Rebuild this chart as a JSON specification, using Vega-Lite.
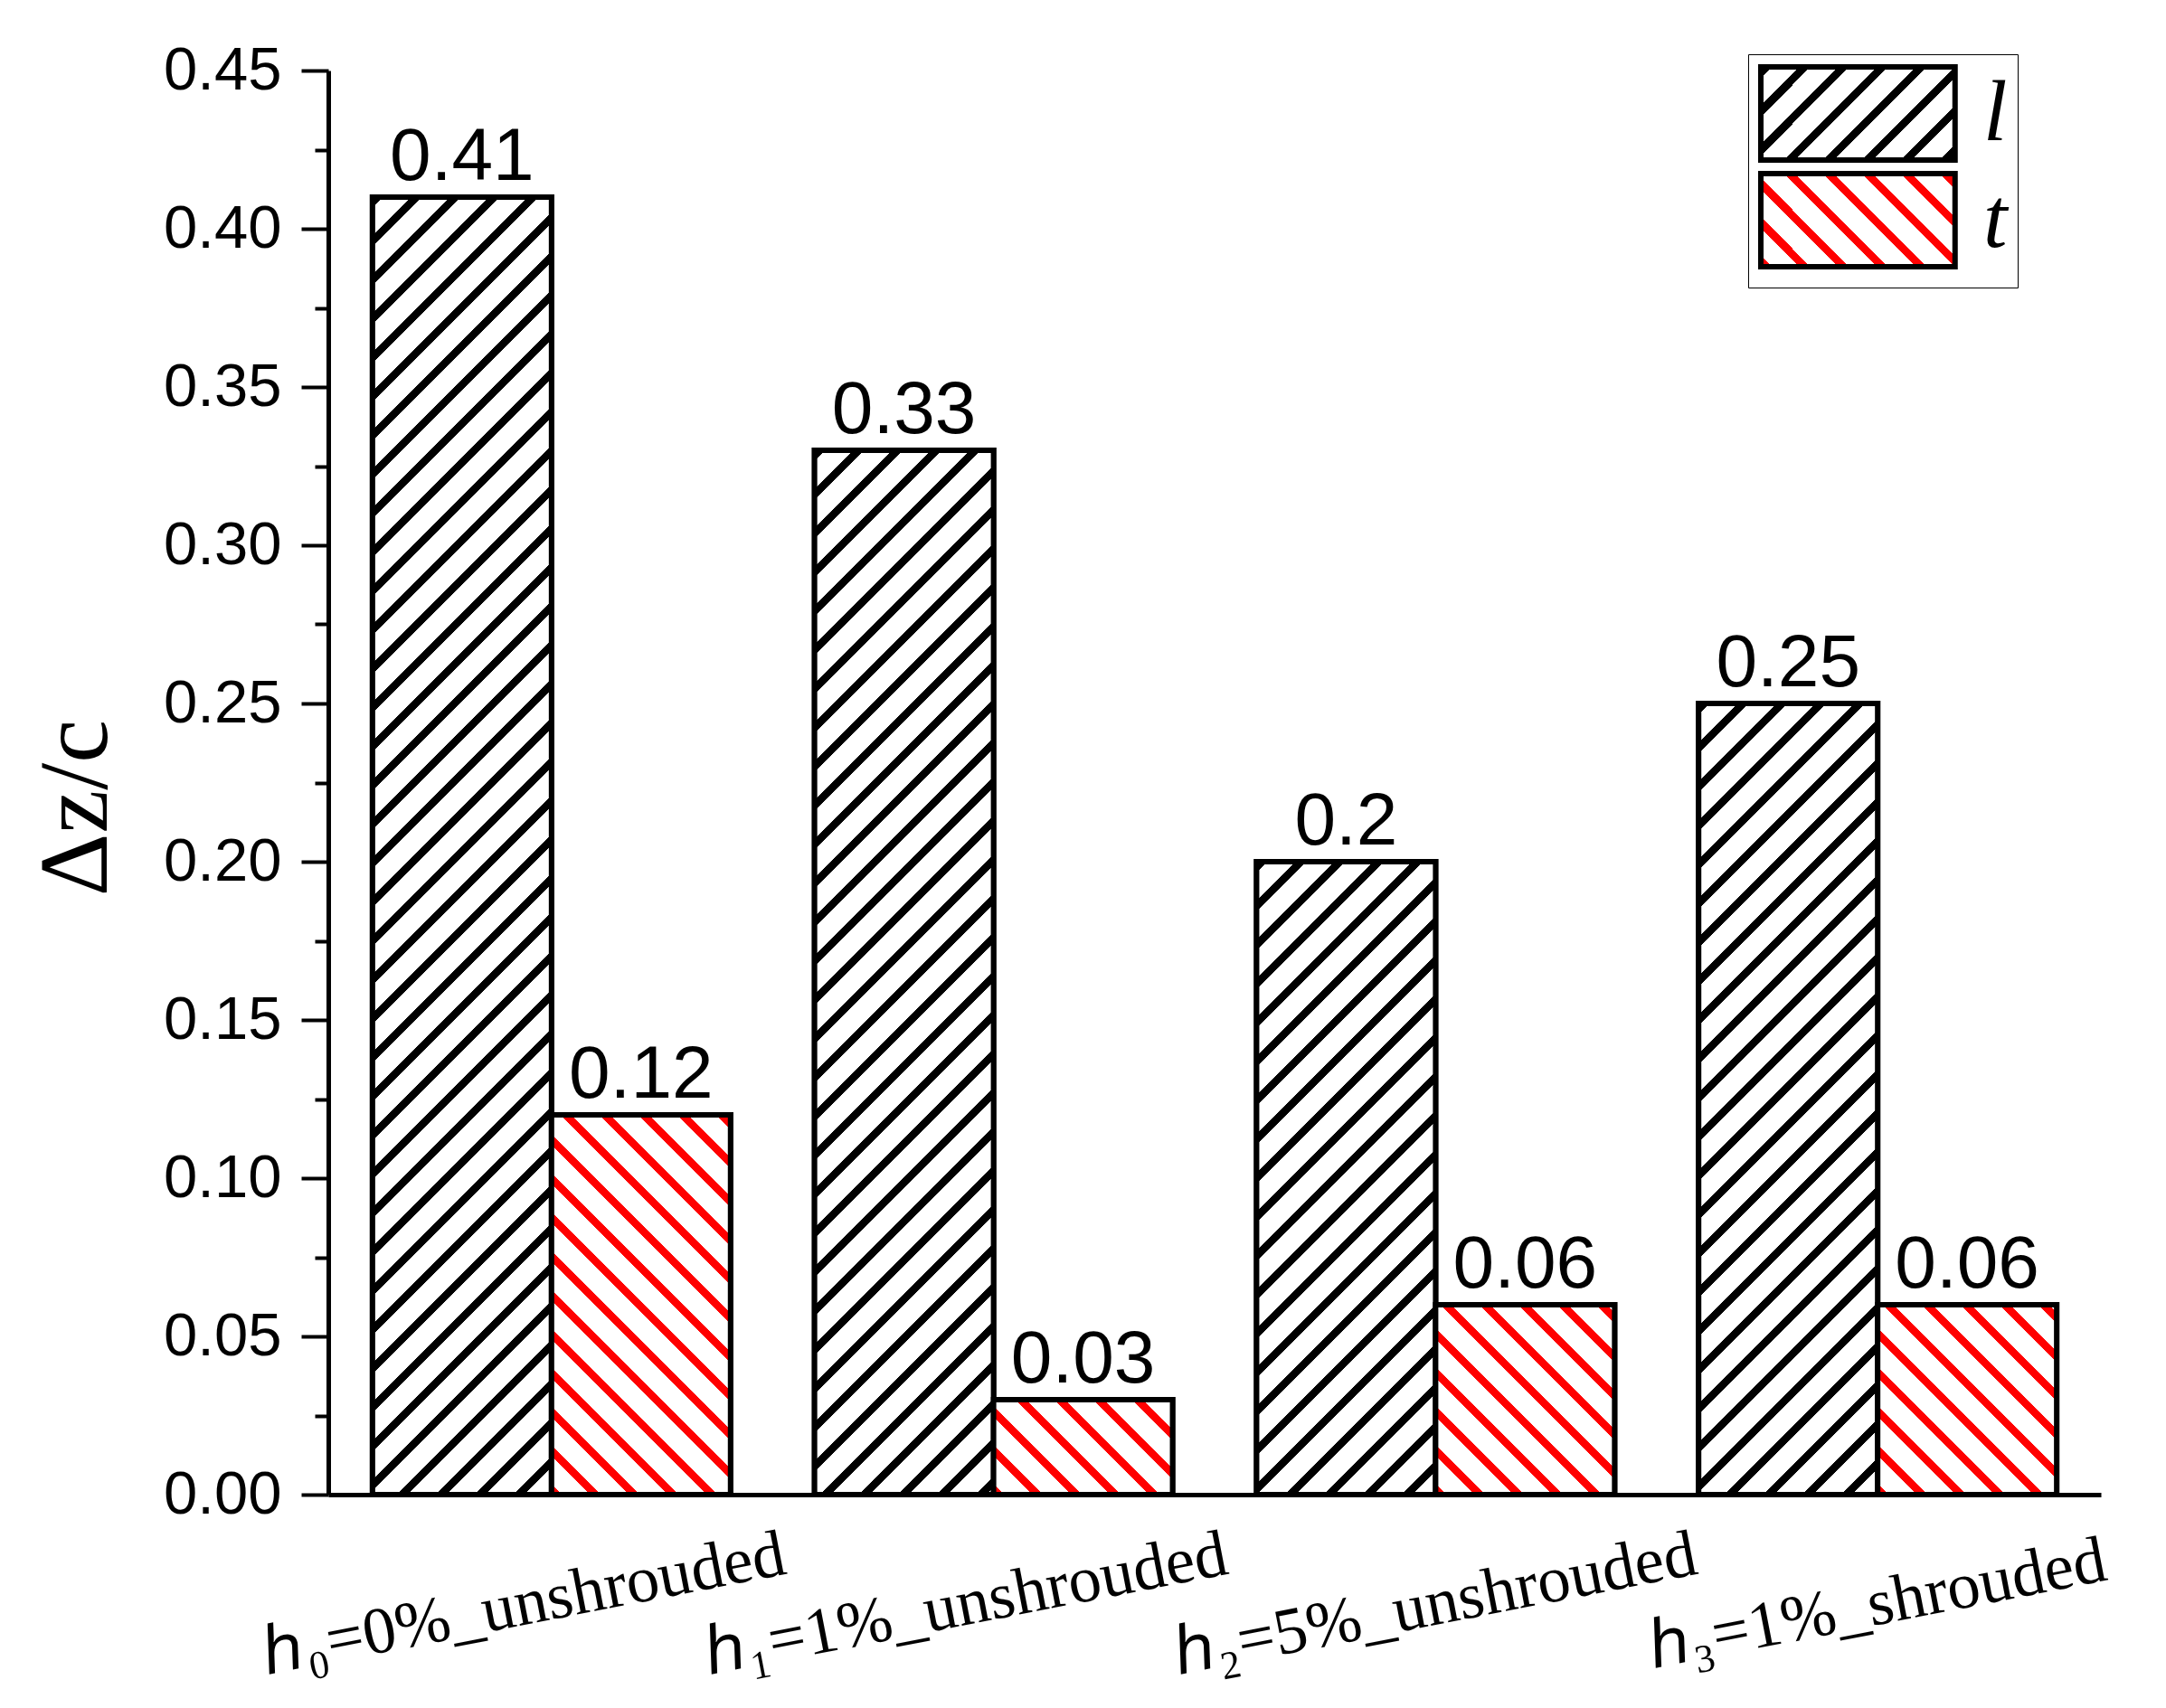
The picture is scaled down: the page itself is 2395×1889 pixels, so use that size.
{
  "$schema": "https://vega.github.io/schema/vega-lite/v6.json",
  "width": 1960,
  "height": 1575,
  "autosize": {"type": "none"},
  "padding": {"left": 363, "top": 78, "right": 72, "bottom": 236},
  "background": "white",
  "params": [
    {"name": "stopsL", "value": [
      {"offset":0,"color":"#000"},{"offset":0.007,"color":"#000"},{"offset":0.007,"color":"#fff"},{"offset":0.025,"color":"#fff"},
      {"offset":0.025,"color":"#000"},{"offset":0.032,"color":"#000"},{"offset":0.032,"color":"#fff"},{"offset":0.05,"color":"#fff"},
      {"offset":0.05,"color":"#000"},{"offset":0.057,"color":"#000"},{"offset":0.057,"color":"#fff"},{"offset":0.075,"color":"#fff"},
      {"offset":0.075,"color":"#000"},{"offset":0.082,"color":"#000"},{"offset":0.082,"color":"#fff"},{"offset":0.1,"color":"#fff"},
      {"offset":0.1,"color":"#000"},{"offset":0.107,"color":"#000"},{"offset":0.107,"color":"#fff"},{"offset":0.125,"color":"#fff"},
      {"offset":0.125,"color":"#000"},{"offset":0.132,"color":"#000"},{"offset":0.132,"color":"#fff"},{"offset":0.15,"color":"#fff"},
      {"offset":0.15,"color":"#000"},{"offset":0.157,"color":"#000"},{"offset":0.157,"color":"#fff"},{"offset":0.175,"color":"#fff"},
      {"offset":0.175,"color":"#000"},{"offset":0.182,"color":"#000"},{"offset":0.182,"color":"#fff"},{"offset":0.2,"color":"#fff"},
      {"offset":0.2,"color":"#000"},{"offset":0.207,"color":"#000"},{"offset":0.207,"color":"#fff"},{"offset":0.225,"color":"#fff"},
      {"offset":0.225,"color":"#000"},{"offset":0.232,"color":"#000"},{"offset":0.232,"color":"#fff"},{"offset":0.25,"color":"#fff"},
      {"offset":0.25,"color":"#000"},{"offset":0.257,"color":"#000"},{"offset":0.257,"color":"#fff"},{"offset":0.275,"color":"#fff"},
      {"offset":0.275,"color":"#000"},{"offset":0.282,"color":"#000"},{"offset":0.282,"color":"#fff"},{"offset":0.3,"color":"#fff"},
      {"offset":0.3,"color":"#000"},{"offset":0.307,"color":"#000"},{"offset":0.307,"color":"#fff"},{"offset":0.325,"color":"#fff"},
      {"offset":0.325,"color":"#000"},{"offset":0.332,"color":"#000"},{"offset":0.332,"color":"#fff"},{"offset":0.35,"color":"#fff"},
      {"offset":0.35,"color":"#000"},{"offset":0.357,"color":"#000"},{"offset":0.357,"color":"#fff"},{"offset":0.375,"color":"#fff"},
      {"offset":0.375,"color":"#000"},{"offset":0.382,"color":"#000"},{"offset":0.382,"color":"#fff"},{"offset":0.4,"color":"#fff"},
      {"offset":0.4,"color":"#000"},{"offset":0.407,"color":"#000"},{"offset":0.407,"color":"#fff"},{"offset":0.425,"color":"#fff"},
      {"offset":0.425,"color":"#000"},{"offset":0.432,"color":"#000"},{"offset":0.432,"color":"#fff"},{"offset":0.45,"color":"#fff"},
      {"offset":0.45,"color":"#000"},{"offset":0.457,"color":"#000"},{"offset":0.457,"color":"#fff"},{"offset":0.475,"color":"#fff"},
      {"offset":0.475,"color":"#000"},{"offset":0.482,"color":"#000"},{"offset":0.482,"color":"#fff"},{"offset":0.5,"color":"#fff"},
      {"offset":0.5,"color":"#000"},{"offset":0.507,"color":"#000"},{"offset":0.507,"color":"#fff"},{"offset":0.525,"color":"#fff"},
      {"offset":0.525,"color":"#000"},{"offset":0.532,"color":"#000"},{"offset":0.532,"color":"#fff"},{"offset":0.55,"color":"#fff"},
      {"offset":0.55,"color":"#000"},{"offset":0.557,"color":"#000"},{"offset":0.557,"color":"#fff"},{"offset":0.575,"color":"#fff"},
      {"offset":0.575,"color":"#000"},{"offset":0.582,"color":"#000"},{"offset":0.582,"color":"#fff"},{"offset":0.6,"color":"#fff"},
      {"offset":0.6,"color":"#000"},{"offset":0.607,"color":"#000"},{"offset":0.607,"color":"#fff"},{"offset":0.625,"color":"#fff"},
      {"offset":0.625,"color":"#000"},{"offset":0.632,"color":"#000"},{"offset":0.632,"color":"#fff"},{"offset":0.65,"color":"#fff"},
      {"offset":0.65,"color":"#000"},{"offset":0.657,"color":"#000"},{"offset":0.657,"color":"#fff"},{"offset":0.675,"color":"#fff"},
      {"offset":0.675,"color":"#000"},{"offset":0.682,"color":"#000"},{"offset":0.682,"color":"#fff"},{"offset":0.7,"color":"#fff"},
      {"offset":0.7,"color":"#000"},{"offset":0.707,"color":"#000"},{"offset":0.707,"color":"#fff"},{"offset":0.725,"color":"#fff"},
      {"offset":0.725,"color":"#000"},{"offset":0.732,"color":"#000"},{"offset":0.732,"color":"#fff"},{"offset":0.75,"color":"#fff"},
      {"offset":0.75,"color":"#000"},{"offset":0.757,"color":"#000"},{"offset":0.757,"color":"#fff"},{"offset":0.775,"color":"#fff"},
      {"offset":0.775,"color":"#000"},{"offset":0.782,"color":"#000"},{"offset":0.782,"color":"#fff"},{"offset":0.8,"color":"#fff"},
      {"offset":0.8,"color":"#000"},{"offset":0.807,"color":"#000"},{"offset":0.807,"color":"#fff"},{"offset":0.825,"color":"#fff"},
      {"offset":0.825,"color":"#000"},{"offset":0.832,"color":"#000"},{"offset":0.832,"color":"#fff"},{"offset":0.85,"color":"#fff"},
      {"offset":0.85,"color":"#000"},{"offset":0.857,"color":"#000"},{"offset":0.857,"color":"#fff"},{"offset":0.875,"color":"#fff"},
      {"offset":0.875,"color":"#000"},{"offset":0.882,"color":"#000"},{"offset":0.882,"color":"#fff"},{"offset":0.9,"color":"#fff"},
      {"offset":0.9,"color":"#000"},{"offset":0.907,"color":"#000"},{"offset":0.907,"color":"#fff"},{"offset":0.925,"color":"#fff"},
      {"offset":0.925,"color":"#000"},{"offset":0.932,"color":"#000"},{"offset":0.932,"color":"#fff"},{"offset":0.95,"color":"#fff"},
      {"offset":0.95,"color":"#000"},{"offset":0.957,"color":"#000"},{"offset":0.957,"color":"#fff"},{"offset":0.975,"color":"#fff"},
      {"offset":0.975,"color":"#000"},{"offset":0.982,"color":"#000"},{"offset":0.982,"color":"#fff"},{"offset":1,"color":"#fff"}
    ]},
    {"name": "stopsT", "value": [
      {"offset":0,"color":"#f00"},{"offset":0.007,"color":"#f00"},{"offset":0.007,"color":"#fff"},{"offset":0.025,"color":"#fff"},
      {"offset":0.025,"color":"#f00"},{"offset":0.032,"color":"#f00"},{"offset":0.032,"color":"#fff"},{"offset":0.05,"color":"#fff"},
      {"offset":0.05,"color":"#f00"},{"offset":0.057,"color":"#f00"},{"offset":0.057,"color":"#fff"},{"offset":0.075,"color":"#fff"},
      {"offset":0.075,"color":"#f00"},{"offset":0.082,"color":"#f00"},{"offset":0.082,"color":"#fff"},{"offset":0.1,"color":"#fff"},
      {"offset":0.1,"color":"#f00"},{"offset":0.107,"color":"#f00"},{"offset":0.107,"color":"#fff"},{"offset":0.125,"color":"#fff"},
      {"offset":0.125,"color":"#f00"},{"offset":0.132,"color":"#f00"},{"offset":0.132,"color":"#fff"},{"offset":0.15,"color":"#fff"},
      {"offset":0.15,"color":"#f00"},{"offset":0.157,"color":"#f00"},{"offset":0.157,"color":"#fff"},{"offset":0.175,"color":"#fff"},
      {"offset":0.175,"color":"#f00"},{"offset":0.182,"color":"#f00"},{"offset":0.182,"color":"#fff"},{"offset":0.2,"color":"#fff"},
      {"offset":0.2,"color":"#f00"},{"offset":0.207,"color":"#f00"},{"offset":0.207,"color":"#fff"},{"offset":0.225,"color":"#fff"},
      {"offset":0.225,"color":"#f00"},{"offset":0.232,"color":"#f00"},{"offset":0.232,"color":"#fff"},{"offset":0.25,"color":"#fff"},
      {"offset":0.25,"color":"#f00"},{"offset":0.257,"color":"#f00"},{"offset":0.257,"color":"#fff"},{"offset":0.275,"color":"#fff"},
      {"offset":0.275,"color":"#f00"},{"offset":0.282,"color":"#f00"},{"offset":0.282,"color":"#fff"},{"offset":0.3,"color":"#fff"},
      {"offset":0.3,"color":"#f00"},{"offset":0.307,"color":"#f00"},{"offset":0.307,"color":"#fff"},{"offset":0.325,"color":"#fff"},
      {"offset":0.325,"color":"#f00"},{"offset":0.332,"color":"#f00"},{"offset":0.332,"color":"#fff"},{"offset":0.35,"color":"#fff"},
      {"offset":0.35,"color":"#f00"},{"offset":0.357,"color":"#f00"},{"offset":0.357,"color":"#fff"},{"offset":0.375,"color":"#fff"},
      {"offset":0.375,"color":"#f00"},{"offset":0.382,"color":"#f00"},{"offset":0.382,"color":"#fff"},{"offset":0.4,"color":"#fff"},
      {"offset":0.4,"color":"#f00"},{"offset":0.407,"color":"#f00"},{"offset":0.407,"color":"#fff"},{"offset":0.425,"color":"#fff"},
      {"offset":0.425,"color":"#f00"},{"offset":0.432,"color":"#f00"},{"offset":0.432,"color":"#fff"},{"offset":0.45,"color":"#fff"},
      {"offset":0.45,"color":"#f00"},{"offset":0.457,"color":"#f00"},{"offset":0.457,"color":"#fff"},{"offset":0.475,"color":"#fff"},
      {"offset":0.475,"color":"#f00"},{"offset":0.482,"color":"#f00"},{"offset":0.482,"color":"#fff"},{"offset":0.5,"color":"#fff"},
      {"offset":0.5,"color":"#f00"},{"offset":0.507,"color":"#f00"},{"offset":0.507,"color":"#fff"},{"offset":0.525,"color":"#fff"},
      {"offset":0.525,"color":"#f00"},{"offset":0.532,"color":"#f00"},{"offset":0.532,"color":"#fff"},{"offset":0.55,"color":"#fff"},
      {"offset":0.55,"color":"#f00"},{"offset":0.557,"color":"#f00"},{"offset":0.557,"color":"#fff"},{"offset":0.575,"color":"#fff"},
      {"offset":0.575,"color":"#f00"},{"offset":0.582,"color":"#f00"},{"offset":0.582,"color":"#fff"},{"offset":0.6,"color":"#fff"},
      {"offset":0.6,"color":"#f00"},{"offset":0.607,"color":"#f00"},{"offset":0.607,"color":"#fff"},{"offset":0.625,"color":"#fff"},
      {"offset":0.625,"color":"#f00"},{"offset":0.632,"color":"#f00"},{"offset":0.632,"color":"#fff"},{"offset":0.65,"color":"#fff"},
      {"offset":0.65,"color":"#f00"},{"offset":0.657,"color":"#f00"},{"offset":0.657,"color":"#fff"},{"offset":0.675,"color":"#fff"},
      {"offset":0.675,"color":"#f00"},{"offset":0.682,"color":"#f00"},{"offset":0.682,"color":"#fff"},{"offset":0.7,"color":"#fff"},
      {"offset":0.7,"color":"#f00"},{"offset":0.707,"color":"#f00"},{"offset":0.707,"color":"#fff"},{"offset":0.725,"color":"#fff"},
      {"offset":0.725,"color":"#f00"},{"offset":0.732,"color":"#f00"},{"offset":0.732,"color":"#fff"},{"offset":0.75,"color":"#fff"},
      {"offset":0.75,"color":"#f00"},{"offset":0.757,"color":"#f00"},{"offset":0.757,"color":"#fff"},{"offset":0.775,"color":"#fff"},
      {"offset":0.775,"color":"#f00"},{"offset":0.782,"color":"#f00"},{"offset":0.782,"color":"#fff"},{"offset":0.8,"color":"#fff"},
      {"offset":0.8,"color":"#f00"},{"offset":0.807,"color":"#f00"},{"offset":0.807,"color":"#fff"},{"offset":0.825,"color":"#fff"},
      {"offset":0.825,"color":"#f00"},{"offset":0.832,"color":"#f00"},{"offset":0.832,"color":"#fff"},{"offset":0.85,"color":"#fff"},
      {"offset":0.85,"color":"#f00"},{"offset":0.857,"color":"#f00"},{"offset":0.857,"color":"#fff"},{"offset":0.875,"color":"#fff"},
      {"offset":0.875,"color":"#f00"},{"offset":0.882,"color":"#f00"},{"offset":0.882,"color":"#fff"},{"offset":0.9,"color":"#fff"},
      {"offset":0.9,"color":"#f00"},{"offset":0.907,"color":"#f00"},{"offset":0.907,"color":"#fff"},{"offset":0.925,"color":"#fff"},
      {"offset":0.925,"color":"#f00"},{"offset":0.932,"color":"#f00"},{"offset":0.932,"color":"#fff"},{"offset":0.95,"color":"#fff"},
      {"offset":0.95,"color":"#f00"},{"offset":0.957,"color":"#f00"},{"offset":0.957,"color":"#fff"},{"offset":0.975,"color":"#fff"},
      {"offset":0.975,"color":"#f00"},{"offset":0.982,"color":"#f00"},{"offset":0.982,"color":"#fff"},{"offset":1,"color":"#fff"}
    ]}
  ],
  "data": {"values": [
    {"group": "ℎ₀=0%_unshrouded", "series": "l", "value": 0.41},
    {"group": "ℎ₀=0%_unshrouded", "series": "t", "value": 0.12},
    {"group": "ℎ₁=1%_unshrouded", "series": "l", "value": 0.33},
    {"group": "ℎ₁=1%_unshrouded", "series": "t", "value": 0.03},
    {"group": "ℎ₂=5%_unshrouded", "series": "l", "value": 0.2},
    {"group": "ℎ₂=5%_unshrouded", "series": "t", "value": 0.06},
    {"group": "ℎ₃=1%_shrouded", "series": "l", "value": 0.25},
    {"group": "ℎ₃=1%_shrouded", "series": "t", "value": 0.06}
  ]},
  "encoding": {
    "x": {
      "field": "group", "type": "nominal", "sort": null,
      "scale": {"paddingInner": 0.19, "paddingOuter": 0.1},
      "axis": {
        "title": null, "labelAngle": -11, "labelAlign": "center", "labelBaseline": "middle",
        "labelPadding": 121, "labelDx": -30, "ticks": false, "tickSize": 0,
        "labelOffset": {"condition": {"test": "indexof(datum.value, 'unshrouded') >= 0 && (indexof(datum.value, '0%') >= 0 || indexof(datum.value, '₁') >= 0)", "value": -30}, "value": 0},
        "domainWidth": 5, "domainColor": "black", "labelFont": "Liberation Serif",
        "labelFontSize": 73, "labelColor": "black", "labelLimit": 0, "labelOverlap": false, "grid": false
      }
    },
    "xOffset": {"field": "series", "type": "nominal", "sort": null, "scale": {"paddingInner": 0, "paddingOuter": 0}}
  },
  "layer": [
    {
      "mark": {"type": "bar", "stroke": "black", "strokeWidth": 6},
      "encoding": {
        "y": {
          "field": "value", "type": "quantitative",
          "scale": {"domain": [0, 0.45], "nice": false, "zero": true},
          "axis": {
            "orient": "left", "title": "Δz/c",
            "values": [0, 0.05, 0.1, 0.15, 0.2, 0.25, 0.3, 0.35, 0.4, 0.45],
            "format": ".2f", "tickSize": 30, "tickWidth": 4, "tickColor": "black",
            "domainWidth": 5, "domainColor": "black", "labelFont": "Liberation Sans",
            "labelFontSize": 67, "labelColor": "black", "labelPadding": 22,
            "titleFont": "Liberation Serif", "titleFontSize": 108, "titleFontWeight": "normal",
            "titleColor": "black", "titlePadding": 40, "titleY": 815, "grid": false
          }
        },
        "color": {
          "field": "series", "type": "nominal", "sort": null,
          "scale": {"range": [
            {"expr": "{gradient: 'linear', x1: 0, y1: 0, x2: 6.5067, y2: 3.1172, stops: stopsL}"},
            {"expr": "{gradient: 'linear', x1: 0, y1: 1, x2: 6.5067, y2: -2.1172, stops: stopsT}"}
          ]},
          "legend": {
            "title": null, "orient": "none", "legendX": 1570, "legendY": -18,
            "symbolType": "M-1,-1H3.17V1H-1Z", "symbolSize": 10609,
            "symbolStrokeColor": "black", "symbolStrokeWidth": 6, "symbolOpacity": 1,
            "labelFont": "Liberation Serif", "labelFontStyle": "italic", "labelFontSize": 95,
            "labelColor": "black", "labelOffset": 140, "labelBaseline": "middle",
            "padding": 11, "rowPadding": -18, "strokeColor": "black",
            "fillColor": "white", "cornerRadius": 0
          }
        }
      }
    },
    {
      "mark": {
        "type": "bar", "stroke": "black", "strokeWidth": 6,
        "fill": {"expr": "datum.series == 'l' ? {gradient: 'linear', x1: 0, y1: 0, x2: 1720*bandwidth('xOffset')/(pow(bandwidth('xOffset'),2)+pow(scale('y',0)-scale('y',datum.value),2)), y2: 1720*(scale('y',0)-scale('y',datum.value))/(pow(bandwidth('xOffset'),2)+pow(scale('y',0)-scale('y',datum.value),2)), stops: stopsL} : {gradient: 'linear', x1: 0, y1: 1, x2: 1720*bandwidth('xOffset')/(pow(bandwidth('xOffset'),2)+pow(scale('y',0)-scale('y',datum.value),2)), y2: 1-1720*(scale('y',0)-scale('y',datum.value))/(pow(bandwidth('xOffset'),2)+pow(scale('y',0)-scale('y',datum.value),2)), stops: stopsT}"}
      },
      "encoding": {
        "y": {
          "field": "value", "type": "quantitative",
          "scale": {"domain": [0, 0.45], "nice": false, "zero": true},
          "axis": {
            "orient": "left", "title": null, "labels": false, "domain": false,
            "values": [0.025, 0.075, 0.125, 0.175, 0.225, 0.275, 0.325, 0.375, 0.425],
            "tickSize": 15, "tickWidth": 4, "tickColor": "black", "grid": false
          }
        }
      }
    },
    {
      "mark": {"type": "text", "font": "Liberation Sans", "fontSize": 82, "color": "black", "baseline": "alphabetic", "align": "center", "dy": -19},
      "encoding": {
        "y": {"field": "value", "type": "quantitative", "scale": {"domain": [0, 0.45], "nice": false, "zero": true}, "axis": null},
        "text": {"field": "value", "type": "nominal"}
      }
    }
  ],
  "resolve": {"axis": {"y": "independent"}},
  "config": {
    "view": {"stroke": null},
    "axis": {"grid": false}
  }
}
